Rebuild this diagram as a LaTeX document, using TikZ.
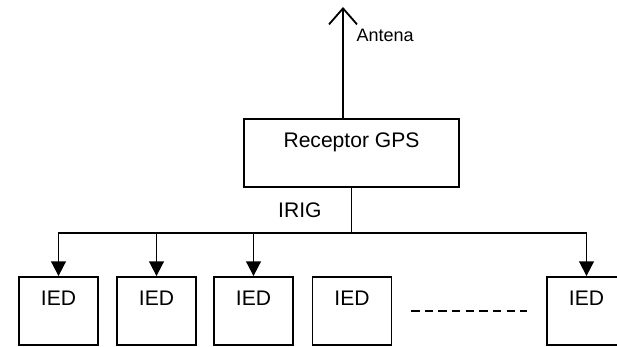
\documentclass[tikz,border=0pt]{standalone}
\usepackage{fontspec}
\setmainfont{Liberation Sans}
\usetikzlibrary{arrows.meta,positioning}

\begin{document}
\begin{tikzpicture}[
  line width=1.3pt,
  lab/.style={inner sep=0pt,font=\fontsize{15}{18}\selectfont},
  gpsbox/.style={draw,minimum width=5.375cm,minimum height=1.7cm,inner sep=0pt,
    label={[lab,anchor=north,yshift=-3.4mm]north:Receptor GPS}},
  ied/.style={draw,minimum width=1.975cm,minimum height=1.7cm,inner sep=0pt,
    label={[lab,anchor=north,yshift=-3.6mm]north:IED}},
  feed/.style={-{Triangle[length=3.7mm,width=3.7mm]}}
]
\useasboundingbox (0,0) rectangle (15.425,8.65);
% receiver and the row of IEDs
\node[gpsbox] (gps) at (8.7875,4.825) {};
\foreach \x [count=\i] in {1.4625,3.9125,6.3375,8.8,14.6625}
  \node[ied] (ied\i) at (\x,0.875) {};
% antenna
\coordinate (ant) at (8.575,8.475);
\draw[-{Straight Barb[length=4mm,width=7mm]}] (gps.north -| ant) -- (ant);
\node[lab,font=\fontsize{12.8}{15}\selectfont,below right=5.2mm and 3.2mm of ant] (antena) {Antena};
% IRIG distribution
\draw (gps.south) -- node[lab,left=7.25mm] (irig) {IRIG} ++(0,-1.125) coordinate (bus);
\foreach \i in {1,2,3,5}
  \draw[feed] (bus) -| (ied\i.north);
\draw[line width=1.1pt,dash pattern=on 5.9pt off 3.8pt,
  shorten <=4.7mm,shorten >=4.7mm] (ied4) -- (ied5);
\end{tikzpicture}
\end{document}
